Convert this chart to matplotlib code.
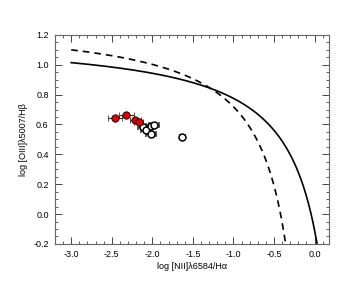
import numpy as np
import matplotlib
matplotlib.use("Agg")
import matplotlib.pyplot as plt
from matplotlib.ticker import MultipleLocator

plt.rcParams['font.family'] = ['Liberation Sans', 'DejaVu Sans']

# Demarcation curves: y = a / (x - b) + c
kewley_coef = (0.61, 0.47, 1.19)
kauffmann_coef = (0.61, 0.05, 1.30)

# Data points
red_x = [-2.46, -2.32, -2.21, -2.17]
red_y = [0.646, 0.666, 0.631, 0.615]
red_xerr = [0.09, 0.09, 0.07, 0.05]

open_x = [-2.12, -2.08, -2.02, -1.98, -2.02, -1.63]
open_y = [0.582, 0.564, 0.590, 0.597, 0.535, 0.515]
open_xerr = [0.06, 0.06, 0.06, 0.06, 0.06, 0.03]

fig = plt.figure(figsize=(3.57, 2.86), dpi=100)
ax = fig.add_axes([0.154, 0.147, 0.768, 0.731])

x1 = np.linspace(-3.0, kewley_coef[1] - 0.44, 400)
a, b, c = kewley_coef
ax.plot(x1, a / (x1 - b) + c, color='black', lw=1.2)
x2 = np.linspace(-3.0, kauffmann_coef[1] - 0.41, 400)
a, b, c = kauffmann_coef
ax.plot(x2, a / (x2 - b) + c, color='black', lw=1.2, ls=(0, (4, 3)))

ax.errorbar(open_x, open_y, xerr=open_xerr, fmt='o', mfc='white', mec='black',
            ecolor='#333333', elinewidth=0.8, capsize=2, ms=5, mew=1.1, zorder=3)
ax.errorbar(red_x, red_y, xerr=red_xerr, fmt='o', mfc='#e00000', mec='black',
            ecolor='#333333', elinewidth=0.8, capsize=2, ms=5.3, mew=0.6, zorder=4)

ax.set_xlim(-3.2, 0.18)
ax.set_ylim(-0.2, 1.2)
ax.xaxis.set_major_locator(MultipleLocator(0.5))
ax.xaxis.set_minor_locator(MultipleLocator(0.1))
ax.yaxis.set_major_locator(MultipleLocator(0.2))
ax.yaxis.set_minor_locator(MultipleLocator(0.05))
ax.tick_params(which='both', direction='in', top=True, right=True, labelsize=6.5,
               color='#444444')
ax.tick_params(which='major', length=5, width=0.7, pad=4.5)
ax.tick_params(which='minor', length=2.5, width=0.6)
ax.xaxis.set_major_formatter(matplotlib.ticker.FormatStrFormatter('%.1f'))
ax.yaxis.set_major_formatter(matplotlib.ticker.FormatStrFormatter('%.1f'))
for s in ax.spines.values():
    s.set_color('#666666')
    s.set_linewidth(0.8)

ax.set_xlabel('log [NII]λ6584/Hα', fontsize=6.5, labelpad=2)
ax.set_ylabel('log [OIII]λ5007/Hβ', fontsize=6.5, labelpad=4)

fig.savefig('out.png', dpi=100)
